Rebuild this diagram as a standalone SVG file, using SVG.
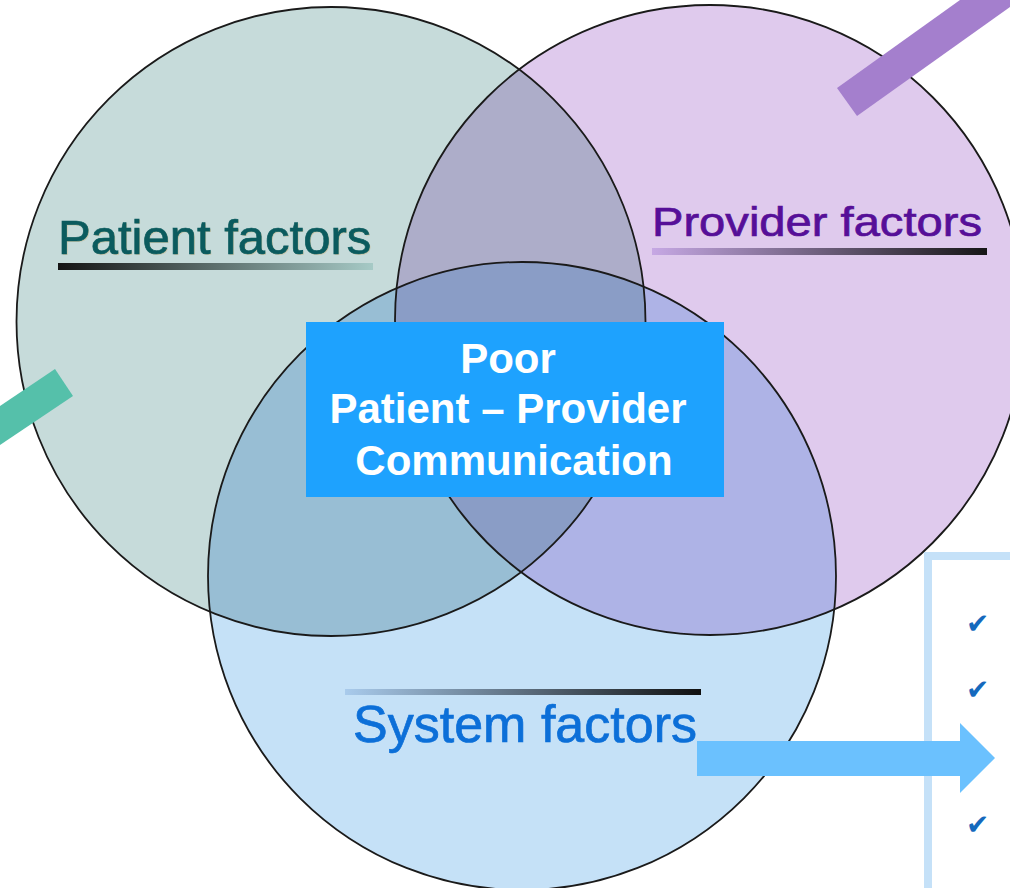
<svg xmlns="http://www.w3.org/2000/svg" width="1010" height="888" viewBox="0 0 1010 888">
<defs>
<style>
.ring{fill:none;stroke:#1a1a1a;stroke-width:1.8}
.lbl{font-family:"Liberation Sans",Arial,sans-serif;stroke-width:0.7}
.ctr{font-family:"Liberation Sans",Arial,sans-serif;font-weight:bold;font-size:42px;fill:#ffffff;text-anchor:middle}
.chk{font-family:"DejaVu Sans",sans-serif;font-size:28px;fill:#1569bd}
</style>
<clipPath id="cL"><circle cx="331" cy="321.5" r="314.5"/></clipPath>
<clipPath id="cR"><circle cx="710" cy="320" r="315"/></clipPath>
<clipPath id="cB"><circle cx="522" cy="576" r="314"/></clipPath>
<linearGradient id="gP" x1="0" x2="1" y1="0" y2="0"><stop offset="0" stop-color="#141414"/><stop offset="1" stop-color="#a6cac6"/></linearGradient>
<linearGradient id="gV" x1="0" x2="1" y1="0" y2="0"><stop offset="0" stop-color="#c6a8e4"/><stop offset="1" stop-color="#161616"/></linearGradient>
<linearGradient id="gS" x1="0" x2="1" y1="0" y2="0"><stop offset="0" stop-color="#a9cbec"/><stop offset="1" stop-color="#101010"/></linearGradient>
</defs>

<g id="patient-circle">
<circle cx="331" cy="321.5" r="314.5" fill="#c6dbda"/>
</g>
<g id="provider-circle">
<circle cx="710" cy="320" r="315" fill="#dfcaed"/>
</g>
<g id="system-circle">
<circle cx="522" cy="576" r="314" fill="#c5e1f7"/>
</g>
<g id="overlaps">
<g clip-path="url(#cL)"><circle cx="710" cy="320" r="315" fill="#adadc9"/></g>
<g clip-path="url(#cL)"><circle cx="522" cy="576" r="314" fill="#98bed4"/></g>
<g clip-path="url(#cR)"><circle cx="522" cy="576" r="314" fill="#aeb3e6"/></g>
<g clip-path="url(#cL)"><g clip-path="url(#cR)"><circle cx="522" cy="576" r="314" fill="#8a9dc6"/></g></g>
</g>
<g id="outlines">
<circle class="ring" cx="331" cy="321.5" r="314.5"/>
<circle class="ring" cx="710" cy="320" r="315"/>
<circle class="ring" cx="522" cy="576" r="314"/>
</g>

<g id="bars">
<polygon points="55,369 73,396 0,445 0,406" fill="#55c0aa"/>
<polygon points="837,88 960,0 1010,0 1010,7 857,116" fill="#a47fcd"/>
</g>

<g id="patient-label">
<text class="lbl" x="59" y="255" font-size="49" fill="#c9b98c" opacity="0.6">Patient factors</text>
<text class="lbl" x="58" y="254" font-size="49" fill="#0b5b5e" stroke="#0b5b5e">Patient factors</text>
<rect x="58" y="263" width="315" height="7" fill="url(#gP)"/>
</g>
<g id="provider-label">
<text class="lbl" x="652" y="236" font-size="41" fill="#560f98" stroke="#560f98" textLength="330" lengthAdjust="spacingAndGlyphs">Provider factors</text>
<rect x="652" y="248" width="335" height="7" fill="url(#gV)"/>
</g>
<g id="system-label">
<rect x="345" y="689" width="356" height="6" fill="url(#gS)"/>
<text class="lbl" x="353" y="742" font-size="52" fill="#0c6fd8" stroke="#0c6fd8" textLength="344" lengthAdjust="spacingAndGlyphs">System factors</text>
</g>

<g id="center-box">
<rect x="306" y="322" width="418" height="175" fill="#1ea2fe"/>
<text class="ctr" x="508" y="373">Poor</text>
<text class="ctr" x="508" y="423">Patient – Provider</text>
<text class="ctr" x="514" y="475">Communication</text>
</g>

<g id="panel">
<path d="M928,888 V556 H1014" fill="none" stroke="#c5e1f8" stroke-width="8"/>
<text class="chk" x="966" y="633">✔</text>
<text class="chk" x="966" y="699">✔</text>
<text class="chk" x="966" y="834">✔</text>
</g>

<g id="connectors">
<polygon points="697,741 960,741 960,723 995,758 960,793 960,776 697,776" fill="#6bc1fe"/>
</g>
</svg>
